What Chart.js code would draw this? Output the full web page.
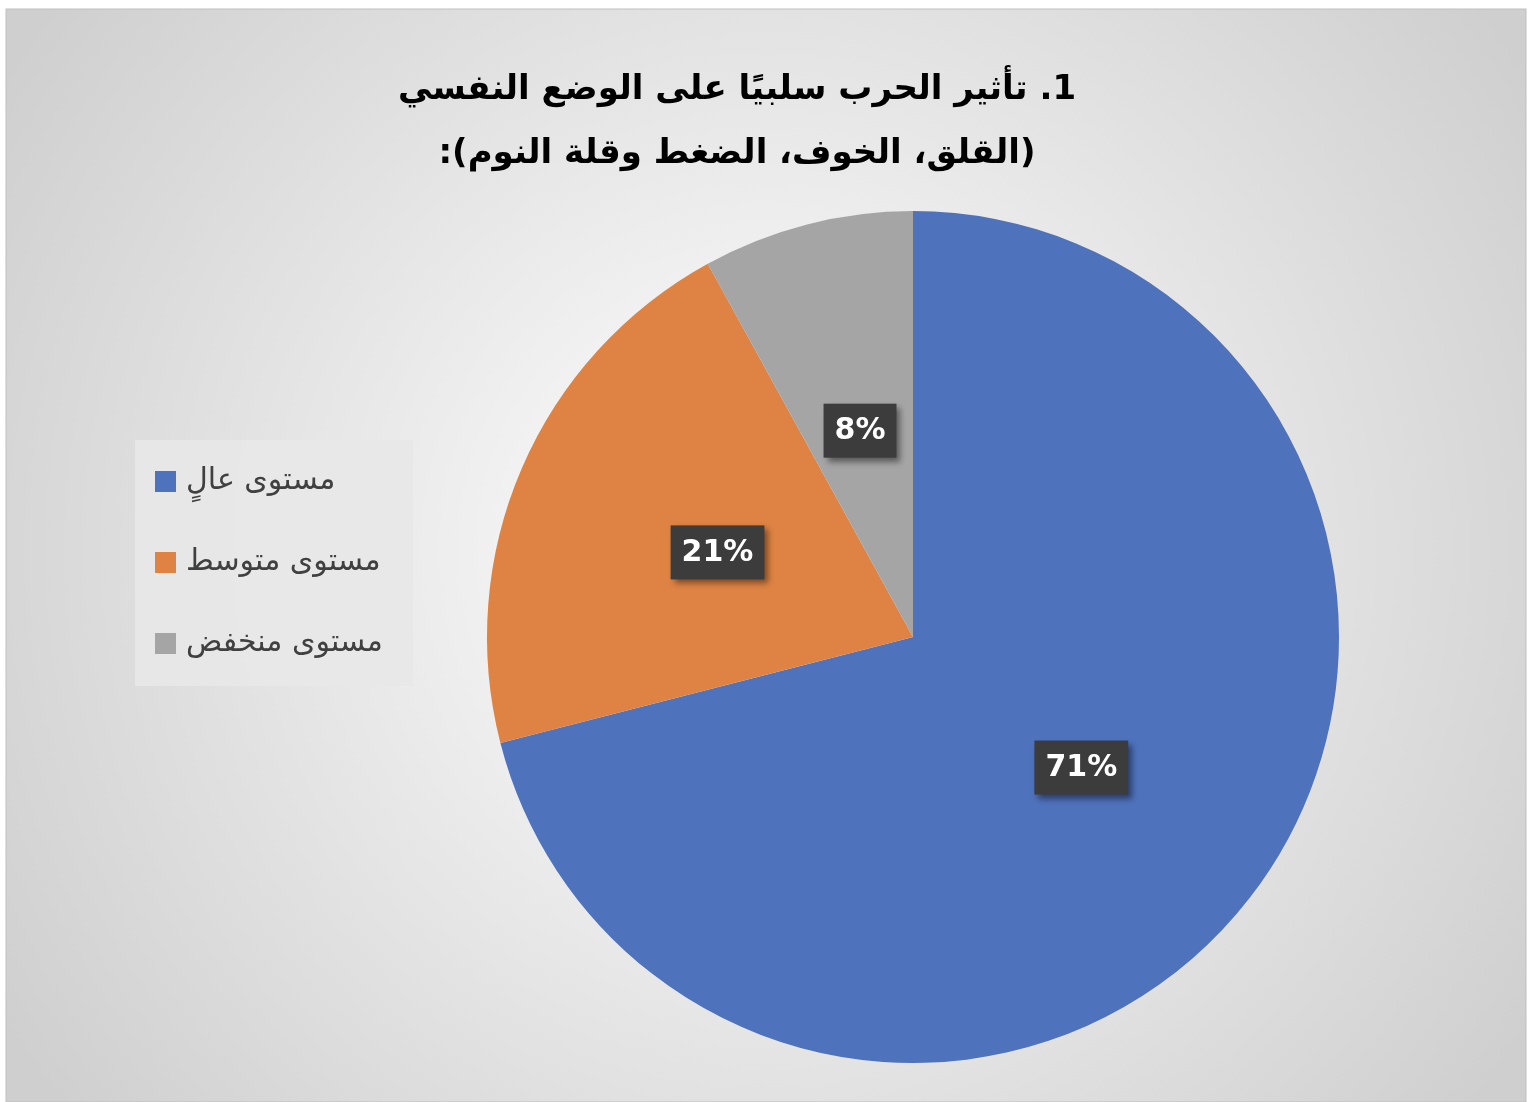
<!DOCTYPE html>
<html><head><meta charset="utf-8">
<script src="https://cdn.jsdelivr.net/npm/chart.js@4"></script>
<style>html,body{margin:0;padding:0;background:#fff}canvas{display:block}</style>
</head><body>
<div style="width:1534px;height:1102px"><canvas id="c"></canvas></div>
<script>
const labels = ['مستوى عالٍ', 'مستوى متوسط', 'مستوى منخفض'];
const values = [71, 21, 8];
const colors = ['#4f72bd', '#de8344', '#a5a5a5'];
const titleLines = ['1. تأثير الحرب سلبيًا على الوضع النفسي', '(القلق، الخوف، الضغط وقلة النوم):'];
const FONT = '"DejaVu Sans", sans-serif';

const deco = {
  id: 'deco',
  beforeDraw(chart) {
    const ctx = chart.ctx, W = chart.width, H = chart.height;
    ctx.save();
    const g = ctx.createRadialGradient(W / 2, H / 2, 0, W / 2, H / 2, 900);
    g.addColorStop(0, '#ffffff');
    g.addColorStop(1, '#cfcfcf');
    ctx.fillStyle = g;
    ctx.fillRect(6, 9, W - 14, H - 9);
    ctx.strokeStyle = '#bfbfbf';
    ctx.strokeRect(6, 9, W - 14, H - 9);
    ctx.fillStyle = '#000';
    ctx.font = 'bold 34px ' + FONT;
    ctx.textAlign = 'center';
    ctx.textBaseline = 'middle';
    ctx.direction = 'rtl';
    titleLines.forEach((t, i) => ctx.fillText(t, 737, 90 + i * 64));
    // legend
    ctx.fillStyle = 'rgba(232,232,232,0.9)';
    ctx.fillRect(135, 440, 278, 246);
    labels.forEach((l, i) => {
      const y = 481 + i * 81;
      ctx.fillStyle = colors[i];
      ctx.fillRect(155, y - 10, 21, 21);
      ctx.fillStyle = '#404040';
      ctx.font = '30px ' + FONT;
      ctx.direction = 'rtl';
      ctx.textAlign = 'right';
      const w = ctx.measureText(l).width;
      ctx.fillText(l, 186 + w, y);
    });
    ctx.restore();
  },
  afterDatasetsDraw(chart) {
    const ctx = chart.ctx;
    const meta = chart.getDatasetMeta(0);
    const total = values.reduce((a, b) => a + b, 0);
    ctx.save();
    meta.data.forEach((arc, i) => {
      const p = arc.tooltipPosition();
      const t = Math.round(values[i] / total * 100) + '%';
      ctx.font = 'bold 30px ' + FONT;
      const w = ctx.measureText(t).width + 22;
      const h = 54;
      ctx.shadowColor = 'rgba(0,0,0,0.45)';
      ctx.shadowOffsetX = 4; ctx.shadowOffsetY = 4; ctx.shadowBlur = 6;
      ctx.fillStyle = '#3c3c3c';
      ctx.fillRect(p.x - w / 2, p.y - h / 2, w, h);
      ctx.shadowColor = 'transparent';
      ctx.fillStyle = '#fff';
      ctx.textAlign = 'center';
      ctx.textBaseline = 'middle';
      ctx.fillText(t, p.x, p.y + 1);
    });
    ctx.restore();
  }
};

new Chart(document.getElementById('c'), {
  type: 'pie',
  data: { labels, datasets: [{ data: values, backgroundColor: colors, borderWidth: 0 }] },
  options: {
    responsive: true, maintainAspectRatio: false, animation: false,
    layout: { padding: { left: 487, right: 195, top: 211, bottom: 39 } },
    plugins: { legend: { display: false }, tooltip: { enabled: false } }
  },
  plugins: [deco]
});
</script>
</body></html>
